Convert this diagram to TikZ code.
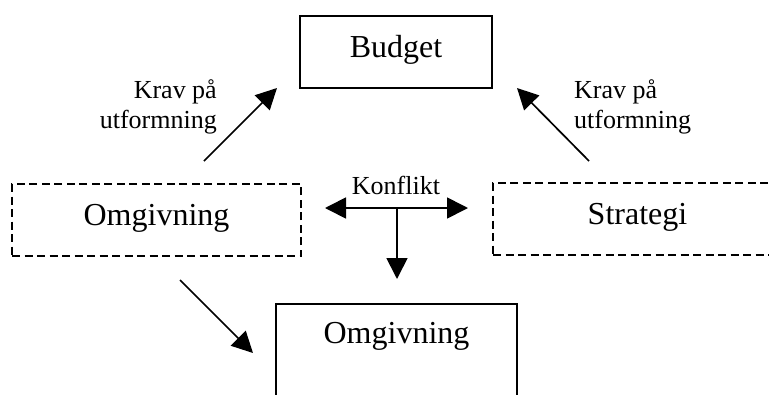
\documentclass[tikz,border=0pt]{standalone}
\usepackage{fontspec}
\setmainfont{Liberation Serif}
\usetikzlibrary{arrows.meta}

\begin{document}
\begin{tikzpicture}
  [x=1pt,y=-1pt,
   box/.style={draw,line width=1.6pt,inner xsep=0pt,inner ysep=0pt,text height=41pt,text depth=31pt,anchor=base,font=\fontsize{32}{38}\selectfont},
   dashbox/.style={box,dash pattern=on 8pt off 4.5pt},
   lbl/.style={inner sep=0pt,font=\fontsize{26}{30}\selectfont},
   pil/.style={line width=1.7pt,-{Triangle[length=21pt,width=21pt]}}]
  \useasboundingbox (0,0) rectangle (769,394);
  \clip (0,0) rectangle (769,394);

  \node (budget)[box,minimum width=192pt] at (396,57) {Budget};
  \node (omg)[dashbox,minimum width=289pt] at (156.5,225) {Omgivning};
  \node (strat)[dashbox,minimum width=289pt] at (637.5,224) {Strategi};
  \node (omg2)[box,minimum width=241pt,text height=39pt,text depth=80pt] at (396.5,343) {Omgivning};

  \node (krav1)[lbl,anchor=base east,align=right] at (217,128) {Krav på\\utformning};
  \node (krav2)[lbl,anchor=base west,align=left] at (574,128) {Krav på\\utformning};
  \node (konf)[lbl,anchor=base] at (396,194) {Konflikt};

  \coordinate (a1) at (204,161);
  \coordinate (b1) at (277,88);
  \coordinate (a2) at (589,161);
  \coordinate (b2) at (517,88);
  \coordinate (a3) at (180,280);
  \coordinate (b3) at (253,353);
  \coordinate (kj) at (397,208);
  \coordinate (kv) at (325,208);
  \coordinate (kh) at (468,208);
  \coordinate (kn) at (397,279);

  \foreach \from/\to in {a1/b1,a2/b2,a3/b3,kj/kv,kj/kh,kj/kn}
    \draw[pil] (\from) -- (\to);

\end{tikzpicture}
\end{document}
